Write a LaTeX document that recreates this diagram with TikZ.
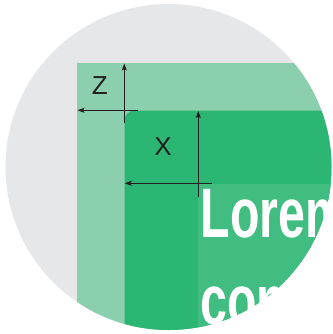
\documentclass[tikz,border=0pt]{standalone}
\usepackage{fontspec}
\setmainfont{Liberation Sans}
\usetikzlibrary{arrows.meta}
\definecolor{bggrey}{HTML}{E6E7E8}
\definecolor{lightgreen}{HTML}{8CCFAE}
\definecolor{darkgreen}{HTML}{2CB673}
\definecolor{midgreen}{HTML}{42BD81}
\definecolor{inkline}{HTML}{231F20}
\tikzset{
  dimarrow/.style={draw=inkline, line width=0.9pt, -{Stealth[length=7pt,width=5pt,inset=1.5pt]}},
  tickline/.style={draw=inkline, line width=0.9pt},
  dimlabel/.style={text=inkline, font=\fontsize{26}{26}\selectfont, inner sep=0pt},
  bigtext/.style={text=white, font=\fontsize{70}{70}\selectfont\bfseries, inner sep=0pt, anchor=base west}
}
\begin{document}
\begin{tikzpicture}[x=1pt,y=-1pt]
\useasboundingbox (0,0) rectangle (332,334);
\fill[bggrey] (168.5,167) circle (163);
\begin{scope}
  \clip (168.5,167) circle (163);
  \fill[lightgreen] (77,63) rectangle (340,340);
  \fill[darkgreen, rounded corners=10pt] (124.5,110.5) rectangle (360,360);
  \fill[midgreen] (198,183.5) rectangle (340,340);
  \node[bigtext] (lorem) at (200.5,237) {\scalebox{0.69}[1]{Lorem}};
  \node[bigtext] (con) at (200,324) {\scalebox{0.69}[1]{con}};
\end{scope}
% Z dimension
\coordinate (zvbot) at (124.3,123);
\coordinate (zvtop) at (124.3,63.5);
\coordinate (zhright) at (138,110.3);
\coordinate (zhleft) at (77.5,110.3);
\draw[dimarrow] (zvbot) -- (zvtop);
\draw[dimarrow] (zhright) -- (zhleft);
\node[dimlabel] (zlabel) at (99.7,85.7) {Z};
% X dimension
\coordinate (xvbot) at (198.3,197);
\coordinate (xvtop) at (198.3,111);
\coordinate (xhright) at (212,183.3);
\coordinate (xhleft) at (124.7,183.3);
\draw[dimarrow] (xvbot) -- (xvtop);
\draw[dimarrow] (xhright) -- (xhleft);
\node[dimlabel] (xlabel) at (163,146.3) {X};
\end{tikzpicture}
\end{document}
